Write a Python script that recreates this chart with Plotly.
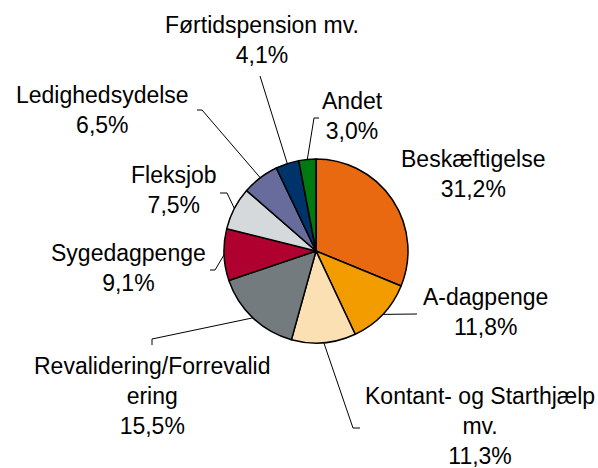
import math
import plotly.graph_objects as go

# ---- data ----
categories = ["Beskæftigelse", "A-dagpenge", "Kontant- og Starthjælp mv.",
              "Revalidering/Forrevalidering", "Sygedagpenge", "Fleksjob",
              "Ledighedsydelse", "Førtidspension mv.", "Andet"]
label_texts = ["Beskæftigelse", "A-dagpenge", "Kontant- og Starthjælp<br>mv.",
               "Revalidering/Forrevalid<br>ering", "Sygedagpenge", "Fleksjob",
               "Ledighedsydelse", "Førtidspension mv.", "Andet"]
values = [31.2, 11.8, 11.3, 15.5, 9.1, 7.5, 6.5, 4.1, 3.0]
pct_labels = ["31,2%", "11,8%", "11,3%", "15,5%", "9,1%", "7,5%", "6,5%", "4,1%", "3,0%"]

# ---- style / layout ----
colors = ["#E8690F", "#F39C00", "#FBE0B4", "#737B7E", "#B0002F",
          "#D6D9DB", "#676C9C", "#00336A", "#007A10"]
W, H = 598, 468
CX, CY, R = 316, 251, 92
# label centers (pixels) and leader elbow points (pixels) ; None = no leader
label_pos = [(473, 174), (485, 312), (480, 426), (152, 396), (128, 268),
             (174, 190), (102, 110), (262, 40), (352, 116)]
elbows = [None,
          [(417, 314)],
          [(353, 428), (360, 428)],
          [(152, 339), (152, 345)],
          [(215, 270), (210, 270)],
          [(227, 193), (220, 193)],
          [(202, 110), (197, 110)],
          [(260, 76)],
          [(314, 118), (319, 118)]]

fig = go.Figure()
fig.add_trace(go.Pie(
    labels=categories, values=values, sort=False, direction="clockwise",
    rotation=0, textinfo="none", hoverinfo="skip", showlegend=False,
    marker=dict(colors=colors, line=dict(color="black", width=1.5)),
    domain=dict(x=[(CX - R) / W, (CX + R) / W], y=[1 - (CY + R) / H, 1 - (CY - R) / H]),
))

# leader lines, starting on the pie edge at each slice's mid-angle
total = sum(values)
lx, ly = [], []
cum = 0.0
for v, el in zip(values, elbows):
    mid = (cum + v / 2) / total * 2 * math.pi
    cum += v
    if el is None:
        continue
    sx = CX + R * math.sin(mid)
    sy = CY - R * math.cos(mid)
    lx += [sx] + [p[0] for p in el] + [None]
    ly += [sy] + [p[1] for p in el] + [None]
fig.add_trace(go.Scatter(x=lx, y=ly, mode="lines", line=dict(color="black", width=1),
                         hoverinfo="skip", showlegend=False))

for t, p, pos in zip(label_texts, pct_labels, label_pos):
    fig.add_annotation(x=pos[0], y=pos[1], xref="x", yref="y", text=f"{t}<br>{p}",
                       showarrow=False, align="center", xanchor="center", yanchor="middle",
                       font=dict(family="Liberation Sans, Arial, sans-serif", size=23, color="black"))

fig.update_layout(
    width=W, height=H, margin=dict(l=0, r=0, t=0, b=0),
    paper_bgcolor="white", plot_bgcolor="rgba(0,0,0,0)",
    xaxis=dict(range=[0, W], visible=False, fixedrange=True, domain=[0, 1]),
    yaxis=dict(range=[H, 0], visible=False, fixedrange=True, domain=[0, 1]),
)
fig.write_html("out.html", config={"displayModeBar": False},
               post_script="document.body.style.margin='0';document.body.style.overflow='hidden';")
